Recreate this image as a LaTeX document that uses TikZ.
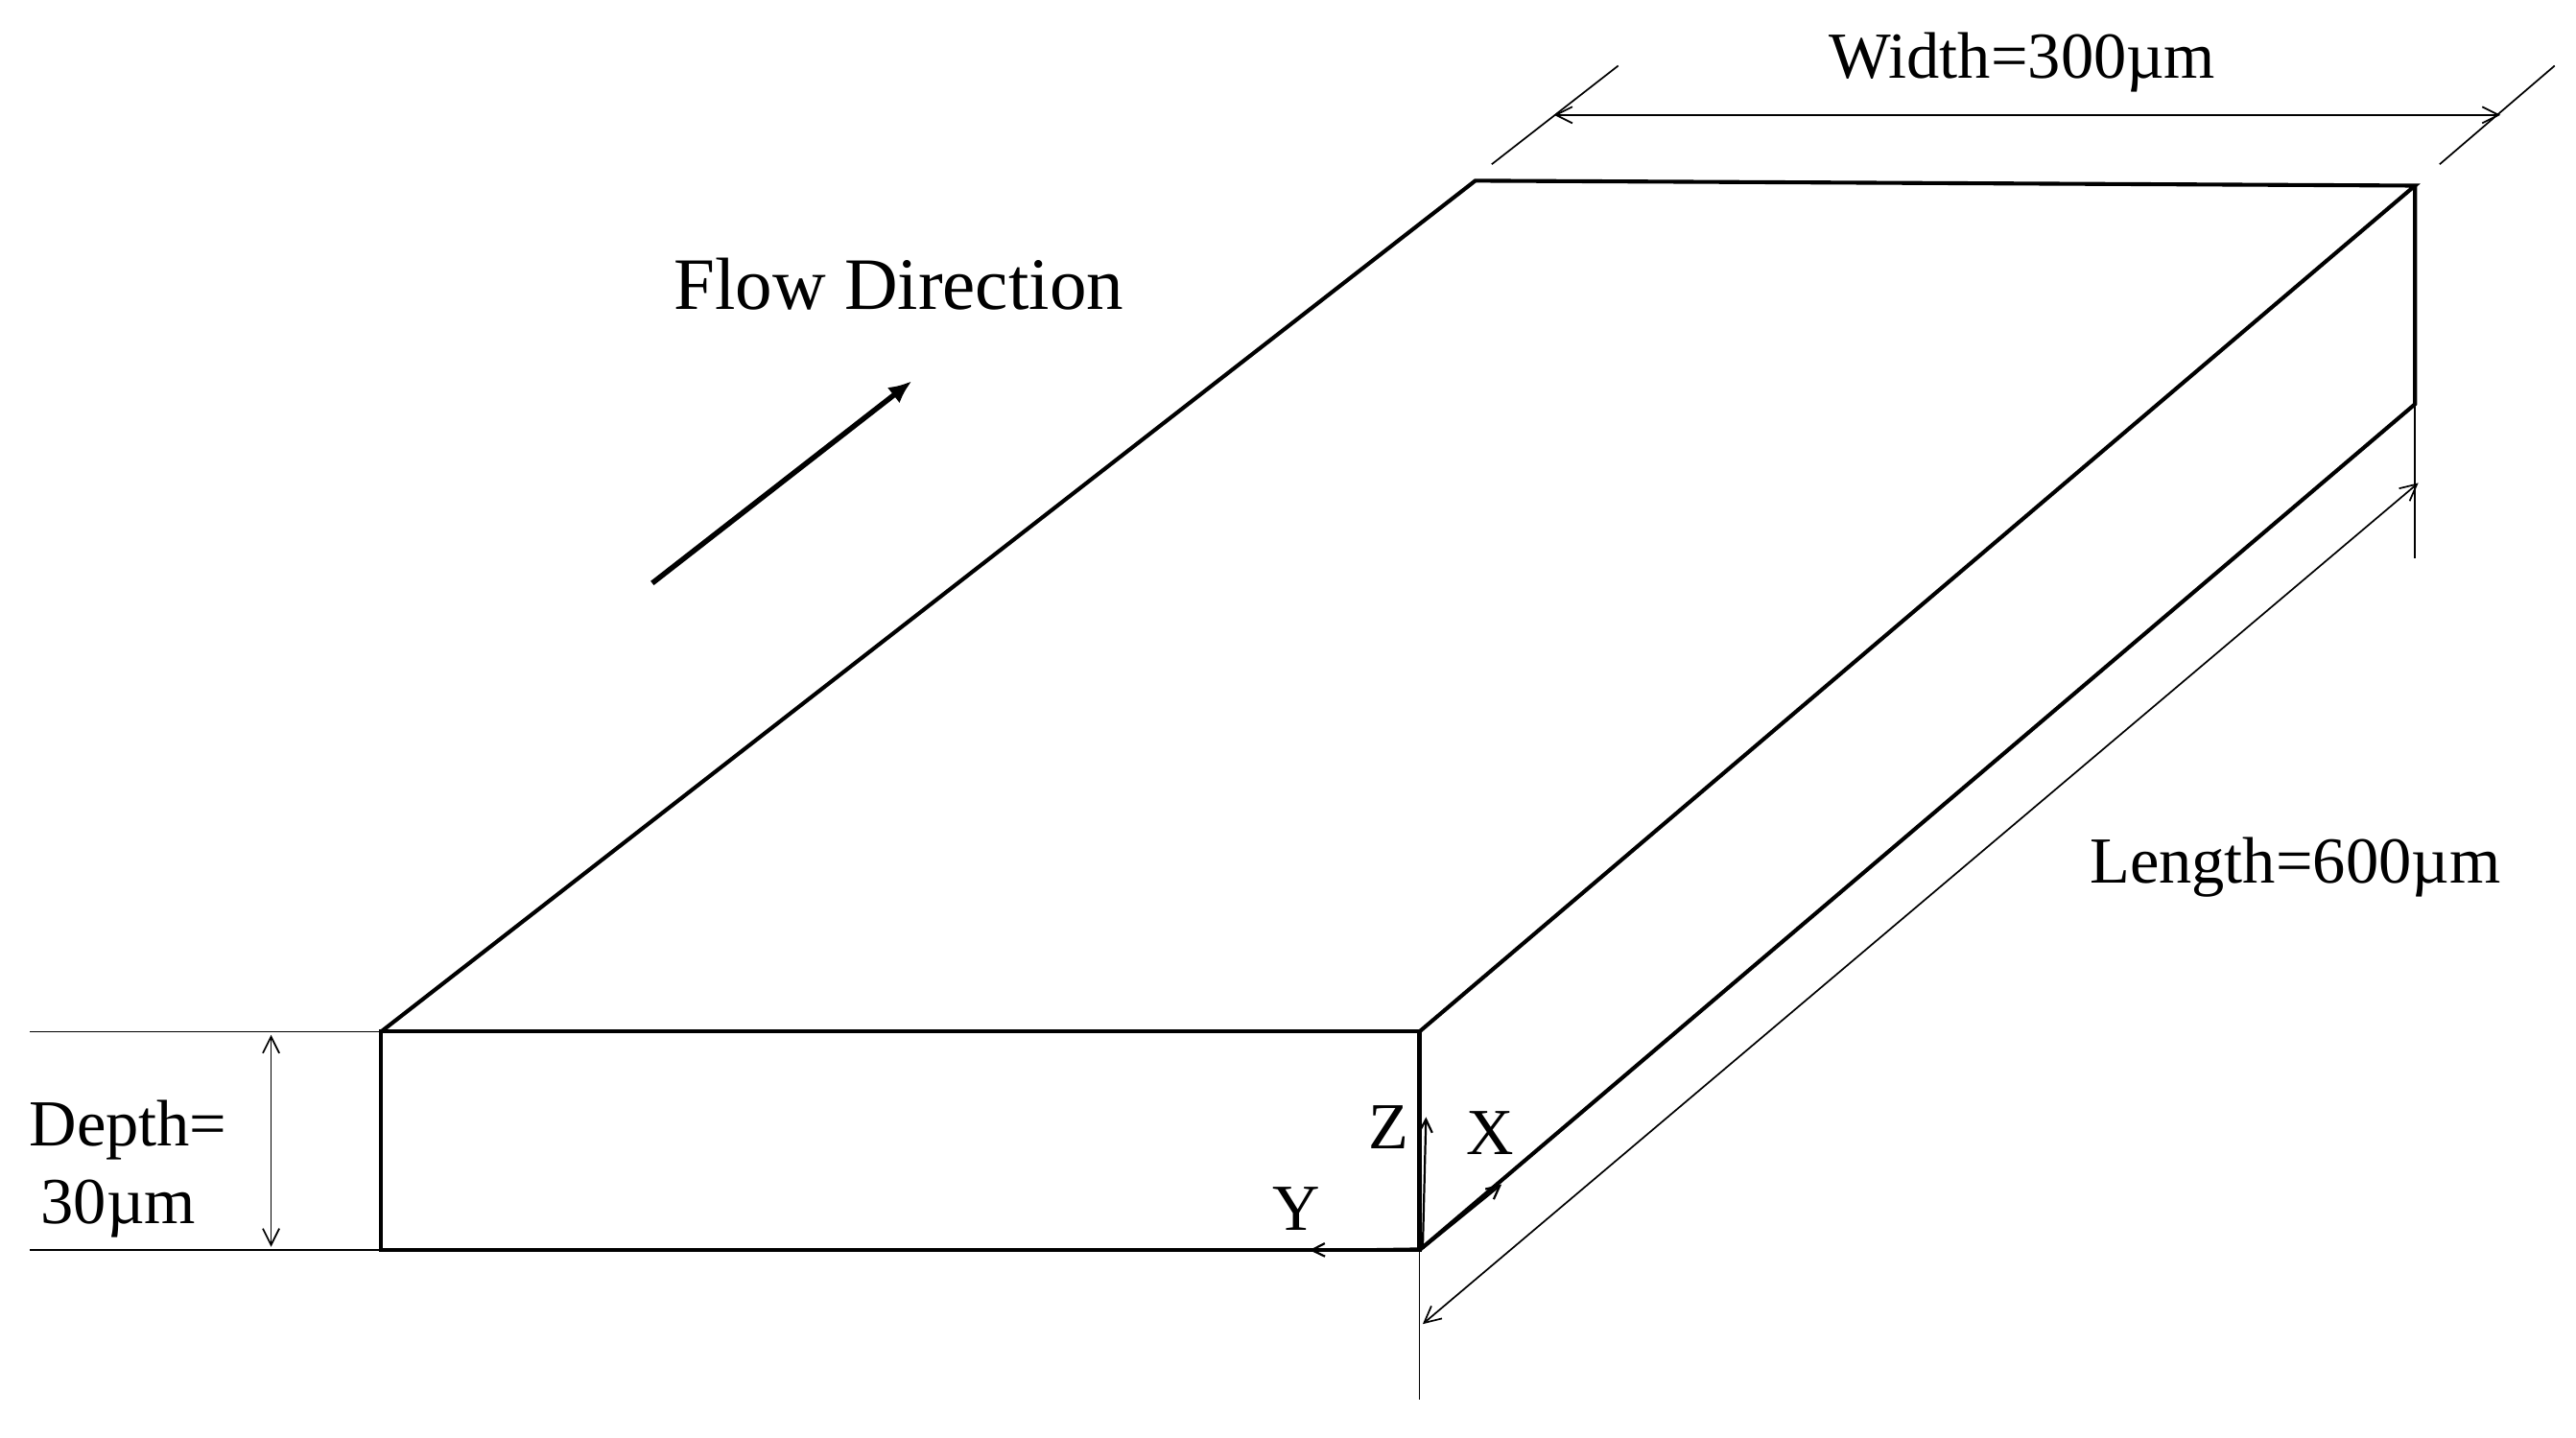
\documentclass[tikz,border=0pt]{standalone}
\usepackage{fontspec}
\setmainfont{Liberation Serif}
\usetikzlibrary{arrows.meta}
\begin{document}
\begin{tikzpicture}[x=1pt,y=-1pt,
  edge/.style={line width=2.4pt},
  thin/.style={line width=1pt},
  dim/.style={thin,{Straight Barb[length=10pt,width=10pt]}-{Straight Barb[length=10pt,width=10pt]}},
  ax/.style={line width=1.3pt,-{Straight Barb[length=8pt,width=8pt]}},
  lab/.style={font=\fontsize{40}{46}\selectfont,inner sep=0pt}]
\useasboundingbox (0,0) rectangle (1568,875);
% box corners
\coordinate (A) at (232,628); \coordinate (B) at (864,628);
\coordinate (C) at (864,761); \coordinate (D) at (232,761);
\coordinate (E) at (898,110); \coordinate (F) at (1470,113);
\coordinate (G) at (1470,246);
\draw[edge] (A)--(B)--(C)--(D)--cycle;
\draw[edge] (A)--(E)--(F)--(B);
\draw[edge] (F)--(G)--(C);
% width dimension
\coordinate (w1) at (908,100); \coordinate (w2) at (985,40);
\coordinate (w3) at (1485,100); \coordinate (w4) at (1555,40);
\draw[thin] (w1)--(w2); \draw[thin] (w3)--(w4);
\coordinate (wa) at (946,70); \coordinate (wb) at (1522,70);
\draw[dim] (wa)--(wb);
\node[lab] (wl) at (1231,38) {Width=300µm};
% length dimension
\coordinate (l1) at (1470,340); \coordinate (l2) at (864,852);
\draw[thin] (G)--(l1); \draw[thin] (C)--(l2);
\coordinate (la) at (866,806); \coordinate (lb) at (1472,294);
\draw[dim] (la)--(lb);
\node[lab] (ll) at (1397,528) {Length=600µm};
% depth dimension
\coordinate (d1) at (18,628); \coordinate (d2) at (18,761);
\draw[thin] (d1)--(A); \draw[thin] (d2)--(D);
\coordinate (da) at (165,630); \coordinate (db) at (165,759);
\draw[dim] (da)--(db);
\node[lab] (dl1) at (78,688) {Depth=};
\node[lab] (dl2) at (72,736) {30µm};
% flow
\coordinate (f1) at (397,355); \coordinate (f2) at (555,232);
\draw[line width=3.2pt,-{Latex[length=14pt,width=12pt]}] (f1)--(f2);
\node[lab,font=\fontsize{45}{50}\selectfont] (fl) at (547,173) {Flow Direction};
% axes
\coordinate (O) at (866,760);
\coordinate (zt) at (868,680); \coordinate (xt) at (914,721); \coordinate (yt) at (797,761);
\draw[ax] (O)--(zt); \draw[ax] (O)--(xt); \draw[ax] (O)--(yt);
\node[lab] (zl) at (845,686) {Z};
\node[lab] (xl) at (907,690) {X};
\node[lab] (yl) at (789,736) {Y};
\end{tikzpicture}
\end{document}
